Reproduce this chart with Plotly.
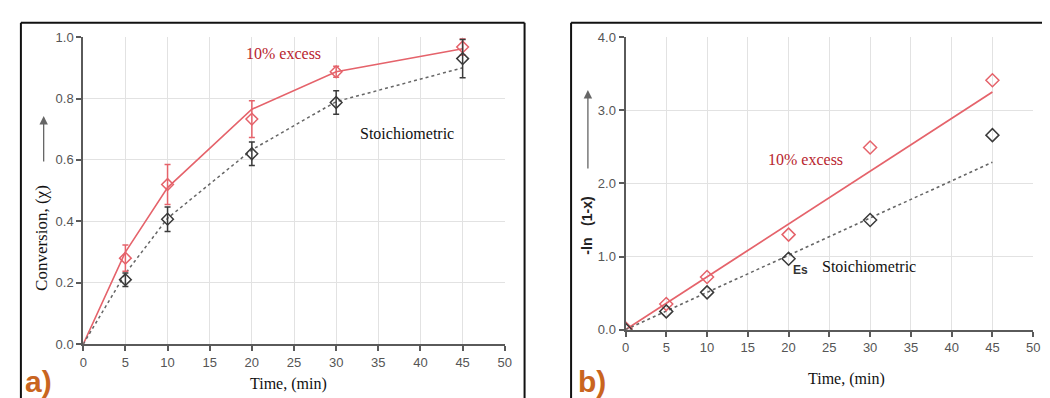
import plotly.graph_objects as go

# ---------------- data ----------------
time_line = [0, 5, 10, 20, 30, 45]
time_pts = [5, 10, 20, 30, 45]

# panel a) conversion
excess_line = [0, 0.30, 0.51, 0.765, 0.887, 0.962]
stoich_line = [0, 0.23, 0.41, 0.633, 0.79, 0.90]
excess_pts = [0.28, 0.52, 0.733, 0.887, 0.968]
excess_err = [0.043, 0.065, 0.06, 0.018, 0.026]
stoich_pts = [0.21, 0.407, 0.62, 0.787, 0.93]
stoich_err = [0.022, 0.04, 0.038, 0.038, 0.062]

# panel b) -ln(1-x)
time_b = [0, 5, 10, 20, 30, 45]
excess_b = [0.02, 0.35, 0.72, 1.30, 2.49, 3.41]
stoich_b = [0.0, 0.25, 0.51, 0.97, 1.50, 2.66]
fit_time = [0, 45]
excess_fit = [0, 3.25]
stoich_fit = [0, 2.29]

x_ticks = [0, 5, 10, 15, 20, 25, 30, 35, 40, 45, 50]
ya_ticks = [0.0, 0.2, 0.4, 0.6, 0.8, 1.0]
yb_ticks = [0.0, 1.0, 2.0, 3.0, 4.0]

# ---------------- style ----------------
RED = "#e5636b"
RED_TXT = "#b8252e"
BLK = "#3a3a3a"
GRID = "#e2e2e2"
AX = "#5a5a5a"
W, H = 1050, 398

fig = go.Figure()

# panel a
fig.add_trace(go.Scatter(x=time_line, y=excess_line, mode="lines",
                         line=dict(color=RED, width=1.6), xaxis="x", yaxis="y", showlegend=False))
fig.add_trace(go.Scatter(x=time_line, y=stoich_line, mode="lines",
                         line=dict(color="#666666", width=1.5, dash="dot"), xaxis="x", yaxis="y", showlegend=False))
fig.add_trace(go.Scatter(x=time_pts, y=excess_pts, mode="markers",
                         marker=dict(symbol="diamond-open", size=9, color=RED, line=dict(width=1.5)),
                         error_y=dict(type="data", array=excess_err, color=RED, thickness=1.5, width=3),
                         xaxis="x", yaxis="y", showlegend=False))
fig.add_trace(go.Scatter(x=time_pts, y=stoich_pts, mode="markers",
                         marker=dict(symbol="diamond-open", size=9, color=BLK, line=dict(width=1.5)),
                         error_y=dict(type="data", array=stoich_err, color=BLK, thickness=1.5, width=3),
                         xaxis="x", yaxis="y", showlegend=False))

# panel b
fig.add_trace(go.Scatter(x=fit_time, y=excess_fit, mode="lines",
                         line=dict(color=RED, width=1.8), xaxis="x2", yaxis="y2", showlegend=False))
fig.add_trace(go.Scatter(x=fit_time, y=stoich_fit, mode="lines",
                         line=dict(color="#666666", width=1.6, dash="dot"), xaxis="x2", yaxis="y2", showlegend=False))
fig.add_trace(go.Scatter(x=time_b, y=excess_b, mode="markers",
                         marker=dict(symbol="diamond-open", size=10, color=RED, line=dict(width=1.5)),
                         xaxis="x2", yaxis="y2", showlegend=False))
fig.add_trace(go.Scatter(x=time_b, y=stoich_b, mode="markers",
                         marker=dict(symbol="diamond-open", size=10, color=BLK, line=dict(width=1.5)),
                         xaxis="x2", yaxis="y2", showlegend=False))

tickfont = dict(family="Liberation Sans Narrow, Arial Narrow, sans-serif", size=13, color="#555555")
common_x = dict(range=[0, 50], tickvals=x_ticks, showgrid=True, gridcolor=GRID, gridwidth=1,
                showline=True, linecolor=AX, linewidth=2, ticks="outside", ticklen=5, tickwidth=1.5,
                tickcolor=AX, tickfont=tickfont, zeroline=False, fixedrange=True)
common_y = dict(showgrid=True, gridcolor=GRID, gridwidth=1, showline=True, linecolor=AX, linewidth=2,
                ticks="outside", ticklen=5, tickwidth=1.5, tickcolor=AX, tickfont=tickfont,
                zeroline=False, tickformat=".1f")

fig.update_layout(
    width=W, height=H, autosize=False,
    margin=dict(l=0, r=0, t=0, b=0),
    paper_bgcolor="white", plot_bgcolor="white",
    xaxis=dict(domain=[72 / W, 498 / W], anchor="y", **common_x),
    yaxis=dict(domain=[(H - 342) / H, (H - 23) / H], anchor="x", range=[0, 1.0], tickvals=ya_ticks, **common_y),
    xaxis2=dict(domain=[620 / W, 1032 / W], anchor="y2", **common_x),
    yaxis2=dict(domain=[(H - 327) / H, (H - 23) / H], anchor="x2", range=[0, 4.0], tickvals=yb_ticks, **common_y),
)

serif = "Liberation Serif, Times New Roman, serif"
C = dict(xanchor="center", yanchor="middle")
ann = []
# curve labels
ann.append(dict(x=23.8, y=0.947, xref="x", yref="y", text="10% excess", showarrow=False,
                font=dict(family=serif, size=16, color=RED_TXT), **C))
ann.append(dict(x=38.4, y=0.687, xref="x", yref="y", text="Stoichiometric", showarrow=False,
                font=dict(family=serif, size=16, color="#111111"), **C))
ann.append(dict(x=22.1, y=2.33, xref="x2", yref="y2", text="10% excess", showarrow=False,
                font=dict(family=serif, size=16, color=RED_TXT), **C))
ann.append(dict(x=29.9, y=0.87, xref="x2", yref="y2", text="Stoichiometric", showarrow=False,
                font=dict(family=serif, size=16, color="#111111"), **C))
ann.append(dict(x=21.5, y=0.81, xref="x2", yref="y2", text="<b>Es</b>", showarrow=False,
                font=dict(family="Liberation Sans Narrow, sans-serif", size=12, color="#333333"), **C))
# axis titles
ann.append(dict(x=279 / W, y=(H - 383) / H, xref="paper", yref="paper", text="Time, (min)", showarrow=False,
                font=dict(family=serif, size=16, color="#111111"), **C))
ann.append(dict(x=843 / W, y=(H - 378) / H, xref="paper", yref="paper", text="Time, (min)", showarrow=False,
                font=dict(family=serif, size=16, color="#111111"), **C))
ann.append(dict(x=30 / W, y=(H - 232) / H, xref="paper", yref="paper", text="Conversion, (\u03c7)",
                showarrow=False, textangle=-90, font=dict(family=serif, size=17, color="#111111"), **C))
ann.append(dict(x=581 / W, y=(H - 219) / H, xref="paper", yref="paper", text="<b>-ln   (1-x)</b>",
                showarrow=False, textangle=-90,
                font=dict(family="Liberation Sans Narrow, sans-serif", size=14, color="#222222"), **C))
# up arrows
ann.append(dict(x=32 / W, y=(H - 105) / H, xref="paper", yref="paper", text="", showarrow=True,
                ax=0, ay=47, axref="pixel", ayref="pixel", arrowhead=2, arrowsize=1.3,
                arrowwidth=1.3, arrowcolor="#666666"))
ann.append(dict(x=582 / W, y=(H - 78) / H, xref="paper", yref="paper", text="", showarrow=True,
                ax=0, ay=80, axref="pixel", ayref="pixel", arrowhead=2, arrowsize=1.3,
                arrowwidth=1.3, arrowcolor="#666666"))
# panel letters
ann.append(dict(x=27 / W, y=(H - 381) / H, xref="paper", yref="paper", text="<b>a)</b>", showarrow=False,
                font=dict(family="Liberation Sans, Arial, sans-serif", size=30, color="#c9651f"), **C))
ann.append(dict(x=586 / W, y=(H - 381) / H, xref="paper", yref="paper", text="<b>b)</b>", showarrow=False,
                font=dict(family="Liberation Sans, Arial, sans-serif", size=30, color="#c9651f"), **C))
fig.update_layout(annotations=ann)

# panel frames
frame = dict(color="#111111", width=2)
shapes = [
    dict(type="line", xref="paper", yref="paper", x0=9 / W, x1=9 / W, y0=0, y1=(H - 8) / H, line=frame),
    dict(type="line", xref="paper", yref="paper", x0=9 / W, x1=518 / W, y0=(H - 8) / H, y1=(H - 8) / H, line=frame),
    dict(type="line", xref="paper", yref="paper", x0=518 / W, x1=518 / W, y0=0, y1=(H - 8) / H, line=frame),
    dict(type="line", xref="paper", yref="paper", x0=565 / W, x1=565 / W, y0=0, y1=(H - 8) / H, line=frame),
    dict(type="line", xref="paper", yref="paper", x0=565 / W, x1=1, y0=(H - 8) / H, y1=(H - 8) / H, line=frame),
]
fig.update_layout(shapes=shapes)

fig.write_html("out.html")
